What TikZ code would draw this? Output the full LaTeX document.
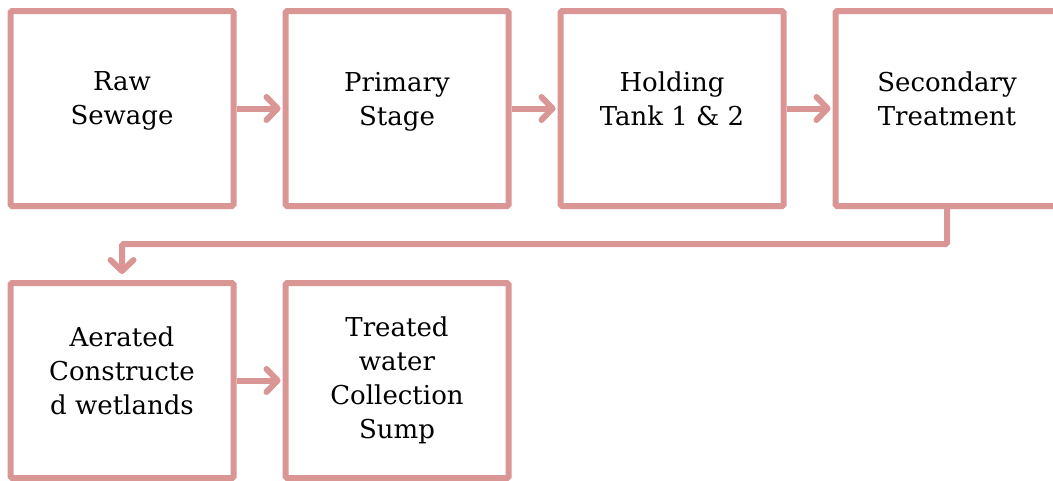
\documentclass[tikz,border=0pt]{standalone}
\usepackage{fontspec}
\setmainfont{DejaVu Serif}
\usepackage{tikz}
\usetikzlibrary{positioning,arrows.meta}
\definecolor{boxpink}{HTML}{DA9694}
\newcommand{\linepad}{\rule[-20pt]{0pt}{20pt}}

\begin{document}
\begin{tikzpicture}[x=1pt,y=-1pt,
        stage/.style={draw=boxpink,line width=6pt,rounded corners=1.5pt,minimum width=223pt,minimum height=195pt,align=center,font=\fontsize{26}{34}\selectfont},
        flow/.style={draw=boxpink,line width=6pt,-{Straight Barb[length=11pt,width=23pt,line cap=round,line join=round]}},
        node distance=46pt]
        \useasboundingbox (0,0) rectangle (1053,480);
        \node[stage] (raw) at (122,108.5) {Raw\\Sewage\linepad};
        \node[stage,right=of raw] (primary) {Primary\\Stage\linepad};
        \node[stage,right=of primary] (holding) {Holding\\Tank 1 \& 2\linepad};
        \node[stage,right=of holding] (secondary) {Secondary\\Treatment\linepad};
        \node[stage,below=71pt of raw] (wetland) {Aerated\\Constructe\\d wetlands\linepad};
        \node[stage,right=of wetland] (sump) {Treated\\water\\Collection\\Sump};
        \draw[flow,shorten >=2pt] (raw) -- (primary);
        \draw[flow,shorten >=2pt] (primary) -- (holding);
        \draw[flow,shorten >=2pt] (holding) -- (secondary);
        \draw[flow,shorten >=2pt] (wetland) -- (sump);
        \draw[flow,rounded corners=1.5pt,shorten >=6pt] (secondary.south) -- ++(0,35) -| (wetland.north);
    \end{tikzpicture}
\end{document}
